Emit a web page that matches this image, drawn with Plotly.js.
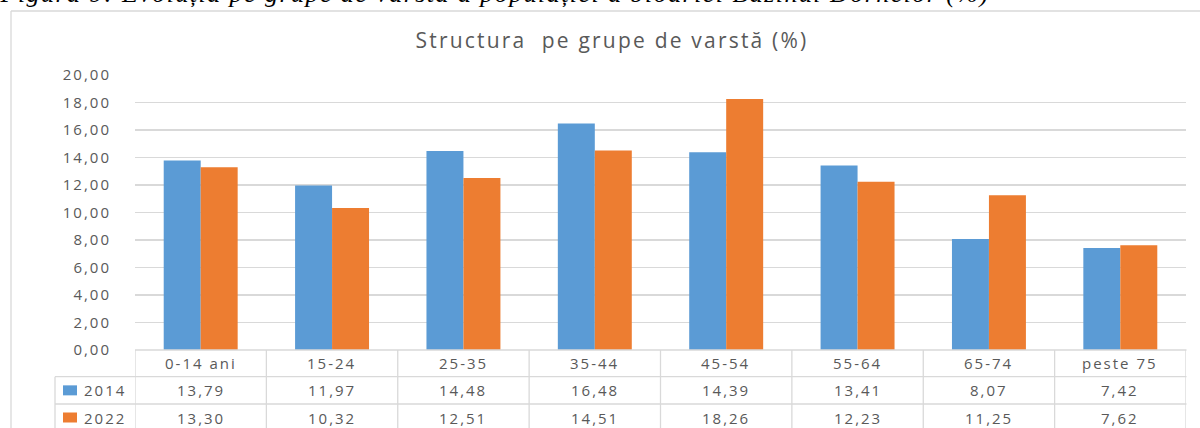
<!DOCTYPE html>
<html>
<head>
<meta charset="utf-8">
<script src="https://cdn.plot.ly/plotly-3.0.1.min.js"></script>
<style>
  html, body { margin: 0; padding: 0; background: #fff; }
  #chart { width: 1200px; height: 428px; }
  .js-plotly-plot .ytick text, .js-plotly-plot .annotation-text { letter-spacing: 2px; }
  .js-plotly-plot text[style*="Liberation Serif"] { letter-spacing: 1.45px; }
  .js-plotly-plot .gtitle { letter-spacing: 2.2px; }
</style>
</head>
<body>
<div id="chart"></div>
<script>
const categories = ['0-14 ani', '15-24', '25-35', '35-44', '45-54', '55-64', '65-74', 'peste 75'];
const years = ['2014', '2022'];
const values2014 = [13.79, 11.97, 14.48, 16.48, 14.39, 13.41, 8.07, 7.42];
const values2022 = [13.30, 10.32, 12.51, 14.51, 18.26, 12.23, 11.25, 7.62];
const yTickValues = [0, 2, 4, 6, 8, 10, 12, 14, 16, 18, 20];
const chartTitle = 'Structura  pe grupe de varstă (%)';
const caption = 'Figura 9: Evoluția pe grupe de vârstă a populației a bioariei Bazinul Dornelor (%)';

const seriesValues = [values2014, values2022];
const colors = ['#5B9BD5', '#ED7D31'];
const textColor = '#595959';
const lineColor = '#D9D9D9';

// pixel geometry helpers (plot area 135..1186 x, 75..350 y)
const W = 1200, H = 428, L = 135, R = 14, T = 75, B = 78;
const PW = W - L - R, PH = H - T - B;
const px = x => (x - L) / PW;
const py = y => (H - B - y) / PH;

const fmt = v => v.toFixed(2).replace('.', ',');

const traces = years.map((yr, i) => ({
  type: 'bar',
  name: yr,
  x: categories,
  y: seriesValues[i],
  marker: { color: colors[i], line: { width: 0 } },
  showlegend: false,
  hoverinfo: 'x+y+name'
}));

// table geometry
const rowTop = [350, 376.7, 404, 431];
const shapes = [];
const annotations = [];
const tline = { color: lineColor, width: 1.3 };

// chart outer border (left & top visible)
shapes.push({ type: 'line', xref: 'paper', yref: 'paper', x0: px(11), x1: px(11), y0: py(11), y1: py(445), line: tline });
shapes.push({ type: 'line', xref: 'paper', yref: 'paper', x0: px(11), x1: px(1210), y0: py(11), y1: py(11), line: tline });

// table horizontal lines
shapes.push({ type: 'line', xref: 'paper', yref: 'paper', x0: px(135), x1: px(1186.5), y0: py(rowTop[0]), y1: py(rowTop[0]), line: tline });
for (let r = 1; r < rowTop.length; r++) {
  shapes.push({ type: 'line', xref: 'paper', yref: 'paper', x0: px(55), x1: px(1186.5), y0: py(rowTop[r]), y1: py(rowTop[r]), line: tline });
}
// legend column left border
shapes.push({ type: 'line', xref: 'paper', yref: 'paper', x0: px(55), x1: px(55), y0: py(rowTop[1]), y1: py(440), line: tline });
// category column borders
for (let i = 0; i <= categories.length; i++) {
  shapes.push({ type: 'line', xref: 'x', yref: 'paper', x0: i - 0.5, x1: i - 0.5, y0: py(rowTop[0]), y1: py(440), line: tline });
}

const cellFont = { family: 'Open Sans', size: 15, color: textColor };
// header row
categories.forEach(c => {
  annotations.push({ xref: 'x', yref: 'paper', x: c, y: py((rowTop[0] + rowTop[1]) / 2), text: c, showarrow: false, xanchor: 'center', yanchor: 'middle', font: cellFont });
});
// data rows
years.forEach((yr, r) => {
  const yc = (rowTop[r + 1] + rowTop[r + 2]) / 2;
  shapes.push({ type: 'rect', xref: 'paper', yref: 'paper', x0: px(63), x1: px(77), y0: py(yc - 5), y1: py(yc + 5), fillcolor: colors[r], line: { width: 0 } });
  annotations.push({ xref: 'paper', yref: 'paper', x: px(105), y: py(yc), text: yr, showarrow: false, xanchor: 'center', yanchor: 'middle', font: cellFont });
  seriesValues[r].forEach((v, i) => {
    annotations.push({ xref: 'x', yref: 'paper', x: categories[i], y: py(yc), text: fmt(v), showarrow: false, xanchor: 'center', yanchor: 'middle', font: cellFont });
  });
});

// figure caption (cut off at top of image, as in the source)
annotations.push({ xref: 'paper', yref: 'paper', x: px(494), y: py(-7), text: '<i>' + caption + '</i>', showarrow: false, xanchor: 'center', yanchor: 'middle', font: { family: 'Liberation Serif', size: 26, color: '#000' } });

const layout = {
  width: W, height: H,
  margin: { l: L, r: R, t: T, b: B, pad: 0 },
  paper_bgcolor: '#fff', plot_bgcolor: '#fff',
  separators: ',.',
  title: { text: chartTitle, x: 612 / W, xanchor: 'center', y: 1 - 41 / H, yanchor: 'middle', yref: 'container', font: { family: 'Open Sans', size: 21, color: textColor } },
  barmode: 'group', bargap: 0.437, bargroupgap: 0,
  xaxis: { type: 'category', range: [-0.5, categories.length - 0.5], showticklabels: false, showgrid: false, zeroline: false, showline: false, ticks: '', fixedrange: true },
  yaxis: { range: [0, 20], tickvals: yTickValues, tickformat: '.2f', showgrid: true, gridcolor: lineColor, gridwidth: 1.3, zeroline: false, showline: false, ticks: 'outside', ticklen: 20, tickcolor: 'rgba(0,0,0,0)', tickfont: { family: 'Open Sans', size: 15, color: textColor }, fixedrange: true },
  shapes: shapes,
  annotations: annotations,
  showlegend: false
};

Plotly.newPlot('chart', traces, layout, { displayModeBar: false, staticPlot: true });
</script>
</body>
</html>
